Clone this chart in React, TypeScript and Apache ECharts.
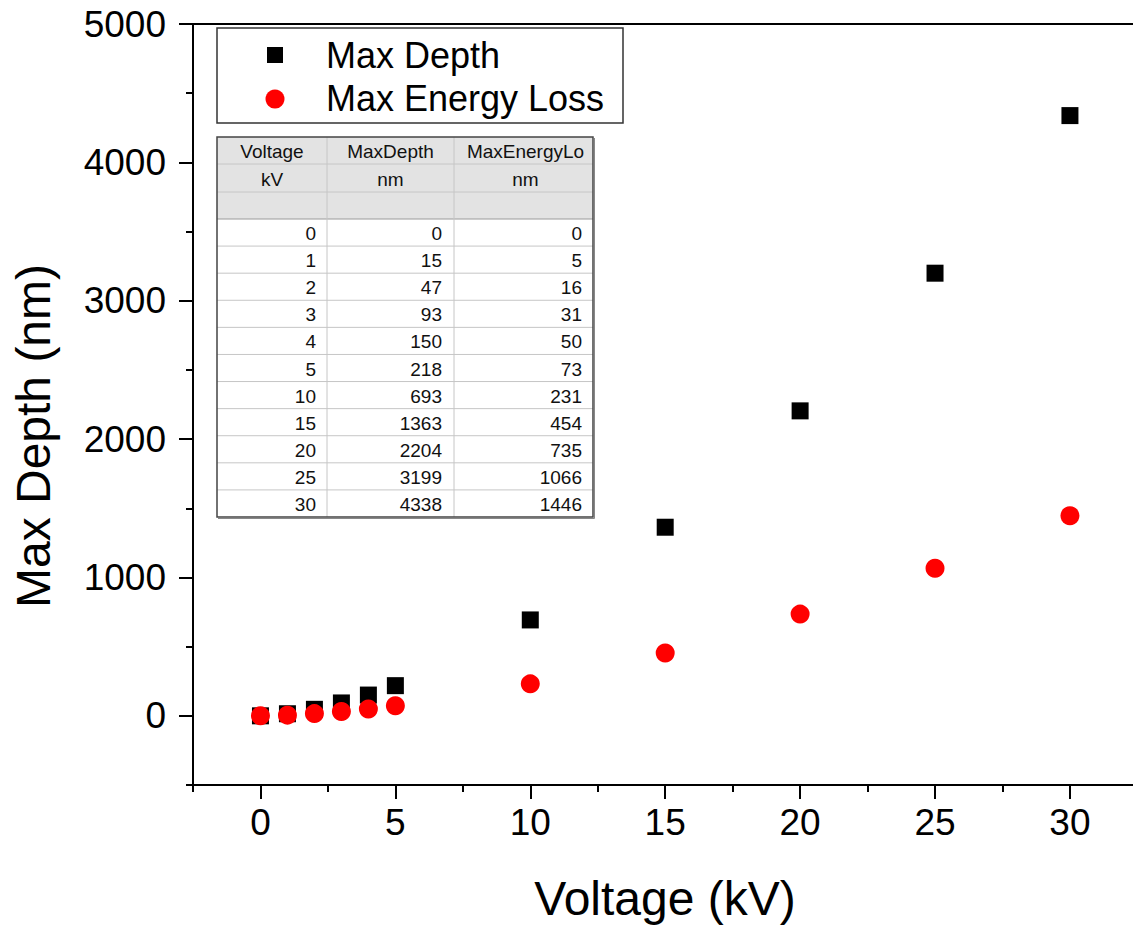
import React, { useEffect, useRef } from "react";
import * as echarts from "echarts";

const voltage = [0, 1, 2, 3, 4, 5, 10, 15, 20, 25, 30];
const maxDepth = [0, 15, 47, 93, 150, 218, 693, 1363, 2204, 3199, 4338];
const maxEnergyLoss = [0, 5, 16, 31, 50, 73, 231, 454, 735, 1066, 1446];

const xMajorTicks = [0, 5, 10, 15, 20, 25, 30];
const xMinorTicks = [-2.5, 2.5, 7.5, 12.5, 17.5, 22.5, 27.5, 32.5];
const yMajorTicks = [0, 1000, 2000, 3000, 4000, 5000];
const yMinorTicks = [-500, 500, 1500, 2500, 3500, 4500];

const tableHeader = ["Voltage", "MaxDepth", "MaxEnergyLo"];
const tableUnits = ["kV", "nm", "nm"];

const FONT = "'Liberation Sans', Arial, sans-serif";

function buildTable(): any[] {
  const x0 = 217, x1 = 327, x2 = 454, x3 = 593;
  const headerY = [137, 164, 192, 219];
  const bottom = 517;
  const rowH = (bottom - headerY[3]) / voltage.length;
  const els: any[] = [];
  els.push({ type: "rect", shape: { x: x0, y: headerY[0], width: x3 - x0, height: bottom - headerY[0] }, style: { fill: "#ffffff" } });
  els.push({ type: "rect", shape: { x: x0, y: headerY[0], width: x3 - x0, height: headerY[3] - headerY[0] }, style: { fill: "#e3e3e3" } });
  const lineC = "#c6c6c6";
  for (let i = 1; i < 4; i++) {
    els.push({ type: "line", shape: { x1: x0, y1: headerY[i], x2: x3, y2: headerY[i] }, style: { stroke: i === 3 ? "#9a9a9a" : lineC, lineWidth: 1 } });
  }
  for (let i = 1; i < voltage.length; i++) {
    const y = headerY[3] + i * rowH;
    els.push({ type: "line", shape: { x1: x0, y1: y, x2: x3, y2: y }, style: { stroke: lineC, lineWidth: 1 } });
  }
  [x1, x2].forEach((x) => {
    els.push({ type: "line", shape: { x1: x, y1: headerY[0], x2: x, y2: bottom }, style: { stroke: lineC, lineWidth: 1 } });
  });
  els.push({ type: "rect", shape: { x: x0, y: headerY[0], width: x3 - x0, height: bottom - headerY[0] }, style: { fill: "none", stroke: "#444", lineWidth: 1.5 } });
  els.push({ type: "line", shape: { x1: x0 + 1, y1: bottom + 1.5, x2: x3 + 1.5, y2: bottom + 1.5 }, style: { stroke: "#888", lineWidth: 1 } });
  els.push({ type: "line", shape: { x1: x3 + 1.5, y1: headerY[0] + 1, x2: x3 + 1.5, y2: bottom + 1.5 }, style: { stroke: "#888", lineWidth: 1 } });

  const centers = [(x0 + x1) / 2, (x1 + x2) / 2, (x2 + x3) / 2 + 2];
  const txt = (text: string, x: number, y: number, align: string) => ({
    type: "text",
    x,
    y,
    style: { text, fill: "#111", fontSize: 19, fontFamily: FONT, align, verticalAlign: "middle" },
  });
  tableHeader.forEach((h, i) => els.push(txt(h, centers[i], (headerY[0] + headerY[1]) / 2 + 1, "center")));
  tableUnits.forEach((h, i) => els.push(txt(h, centers[i], (headerY[1] + headerY[2]) / 2 + 1, "center")));
  const rights = [316, 442, 582];
  voltage.forEach((v, r) => {
    const y = headerY[3] + r * rowH + rowH / 2 + 1;
    const vals = [v, maxDepth[r], maxEnergyLoss[r]];
    vals.forEach((val, c) => els.push(txt(String(val), rights[c], y, "right")));
  });
  return els;
}

function buildLegend(): any[] {
  return [
    { type: "rect", shape: { x: 217, y: 28, width: 406, height: 95 }, style: { fill: "#fff", stroke: "#333", lineWidth: 1.5 } },
    { type: "rect", shape: { x: 267, y: 47, width: 16, height: 16 }, style: { fill: "#000" } },
    { type: "circle", shape: { cx: 275, cy: 99, r: 9.5 }, style: { fill: "#ff0000" } },
    { type: "text", x: 326, y: 55, style: { text: "Max Depth", fill: "#000", fontSize: 36, fontFamily: FONT, align: "left", verticalAlign: "middle" } },
    { type: "text", x: 326, y: 98, style: { text: "Max Energy Loss", fill: "#000", fontSize: 36, fontFamily: FONT, align: "left", verticalAlign: "middle" } },
  ];
}

export default function App() {
  const ref = useRef<HTMLDivElement>(null);
  useEffect(() => {
    if (!ref.current) return;
    const chart = echarts.init(ref.current, undefined, { renderer: "svg" });
    const axisLine = { show: true, onZero: false, lineStyle: { color: "#000", width: 2 } };
    const tickStyle = { color: "#000", width: 2 };
    const xBase = { type: "value", min: -2.5, max: 32.5, splitLine: { show: false } };
    const yBase = { type: "value", min: -500, max: 5000, splitLine: { show: false } };
    chart.setOption({
      animation: false,
      backgroundColor: "#ffffff",
      grid: { left: 193, top: 24, right: -4.4, bottom: 145, outerBoundsMode: "none", containLabel: false },
      xAxis: [
        {
          ...xBase,
          position: "bottom",
          axisLine,
          axisTick: { show: true, customValues: xMajorTicks, length: 14, lineStyle: tickStyle },
          axisLabel: { show: true, customValues: xMajorTicks, fontSize: 37, color: "#000", fontFamily: FONT, margin: 19, formatter: (v: number) => String(v) },
        },
        {
          ...xBase,
          position: "bottom",
          axisLine: { show: false, onZero: false },
          axisTick: { show: true, customValues: xMinorTicks, length: 7, lineStyle: tickStyle },
          axisLabel: { show: false },
        },
        {
          ...xBase,
          position: "top",
          axisLine,
          axisTick: { show: false },
          axisLabel: { show: false },
        },
      ],
      yAxis: [
        {
          ...yBase,
          position: "left",
          axisLine,
          axisTick: { show: true, customValues: yMajorTicks, length: 14, lineStyle: tickStyle },
          axisLabel: { show: true, customValues: yMajorTicks, fontSize: 37, color: "#000", fontFamily: FONT, margin: 27, formatter: (v: number) => String(v) },
        },
        {
          ...yBase,
          position: "left",
          axisLine: { show: false, onZero: false },
          axisTick: { show: true, customValues: yMinorTicks, length: 7, lineStyle: tickStyle },
          axisLabel: { show: false },
        },
      ],
      series: [
        {
          name: "Max Depth",
          type: "scatter",
          symbol: "rect",
          symbolSize: 17,
          itemStyle: { color: "#000000", opacity: 1 },
          data: voltage.map((v, i) => [v, maxDepth[i]]),
        },
        {
          name: "Max Energy Loss",
          type: "scatter",
          symbol: "circle",
          symbolSize: 19,
          itemStyle: { color: "#ff0000", opacity: 1 },
          data: voltage.map((v, i) => [v, maxEnergyLoss[i]]),
        },
      ],
      graphic: [
        ...buildLegend(),
        ...buildTable(),
        {
          type: "text",
          x: 33,
          y: 436,
          rotation: Math.PI / 2,
          style: { text: "Max Depth (nm)", fill: "#000", fontSize: 48, fontFamily: FONT, align: "center", verticalAlign: "middle" },
        },
        {
          type: "text",
          x: 665,
          y: 898,
          style: { text: "Voltage (kV)", fill: "#000", fontSize: 48, fontFamily: FONT, align: "center", verticalAlign: "middle" },
        },
      ],
    });
    return () => chart.dispose();
  }, []);
  return <div ref={ref} style={{ position: "absolute", left: 0, top: 0, width: 1133, height: 930 }} />;
}
